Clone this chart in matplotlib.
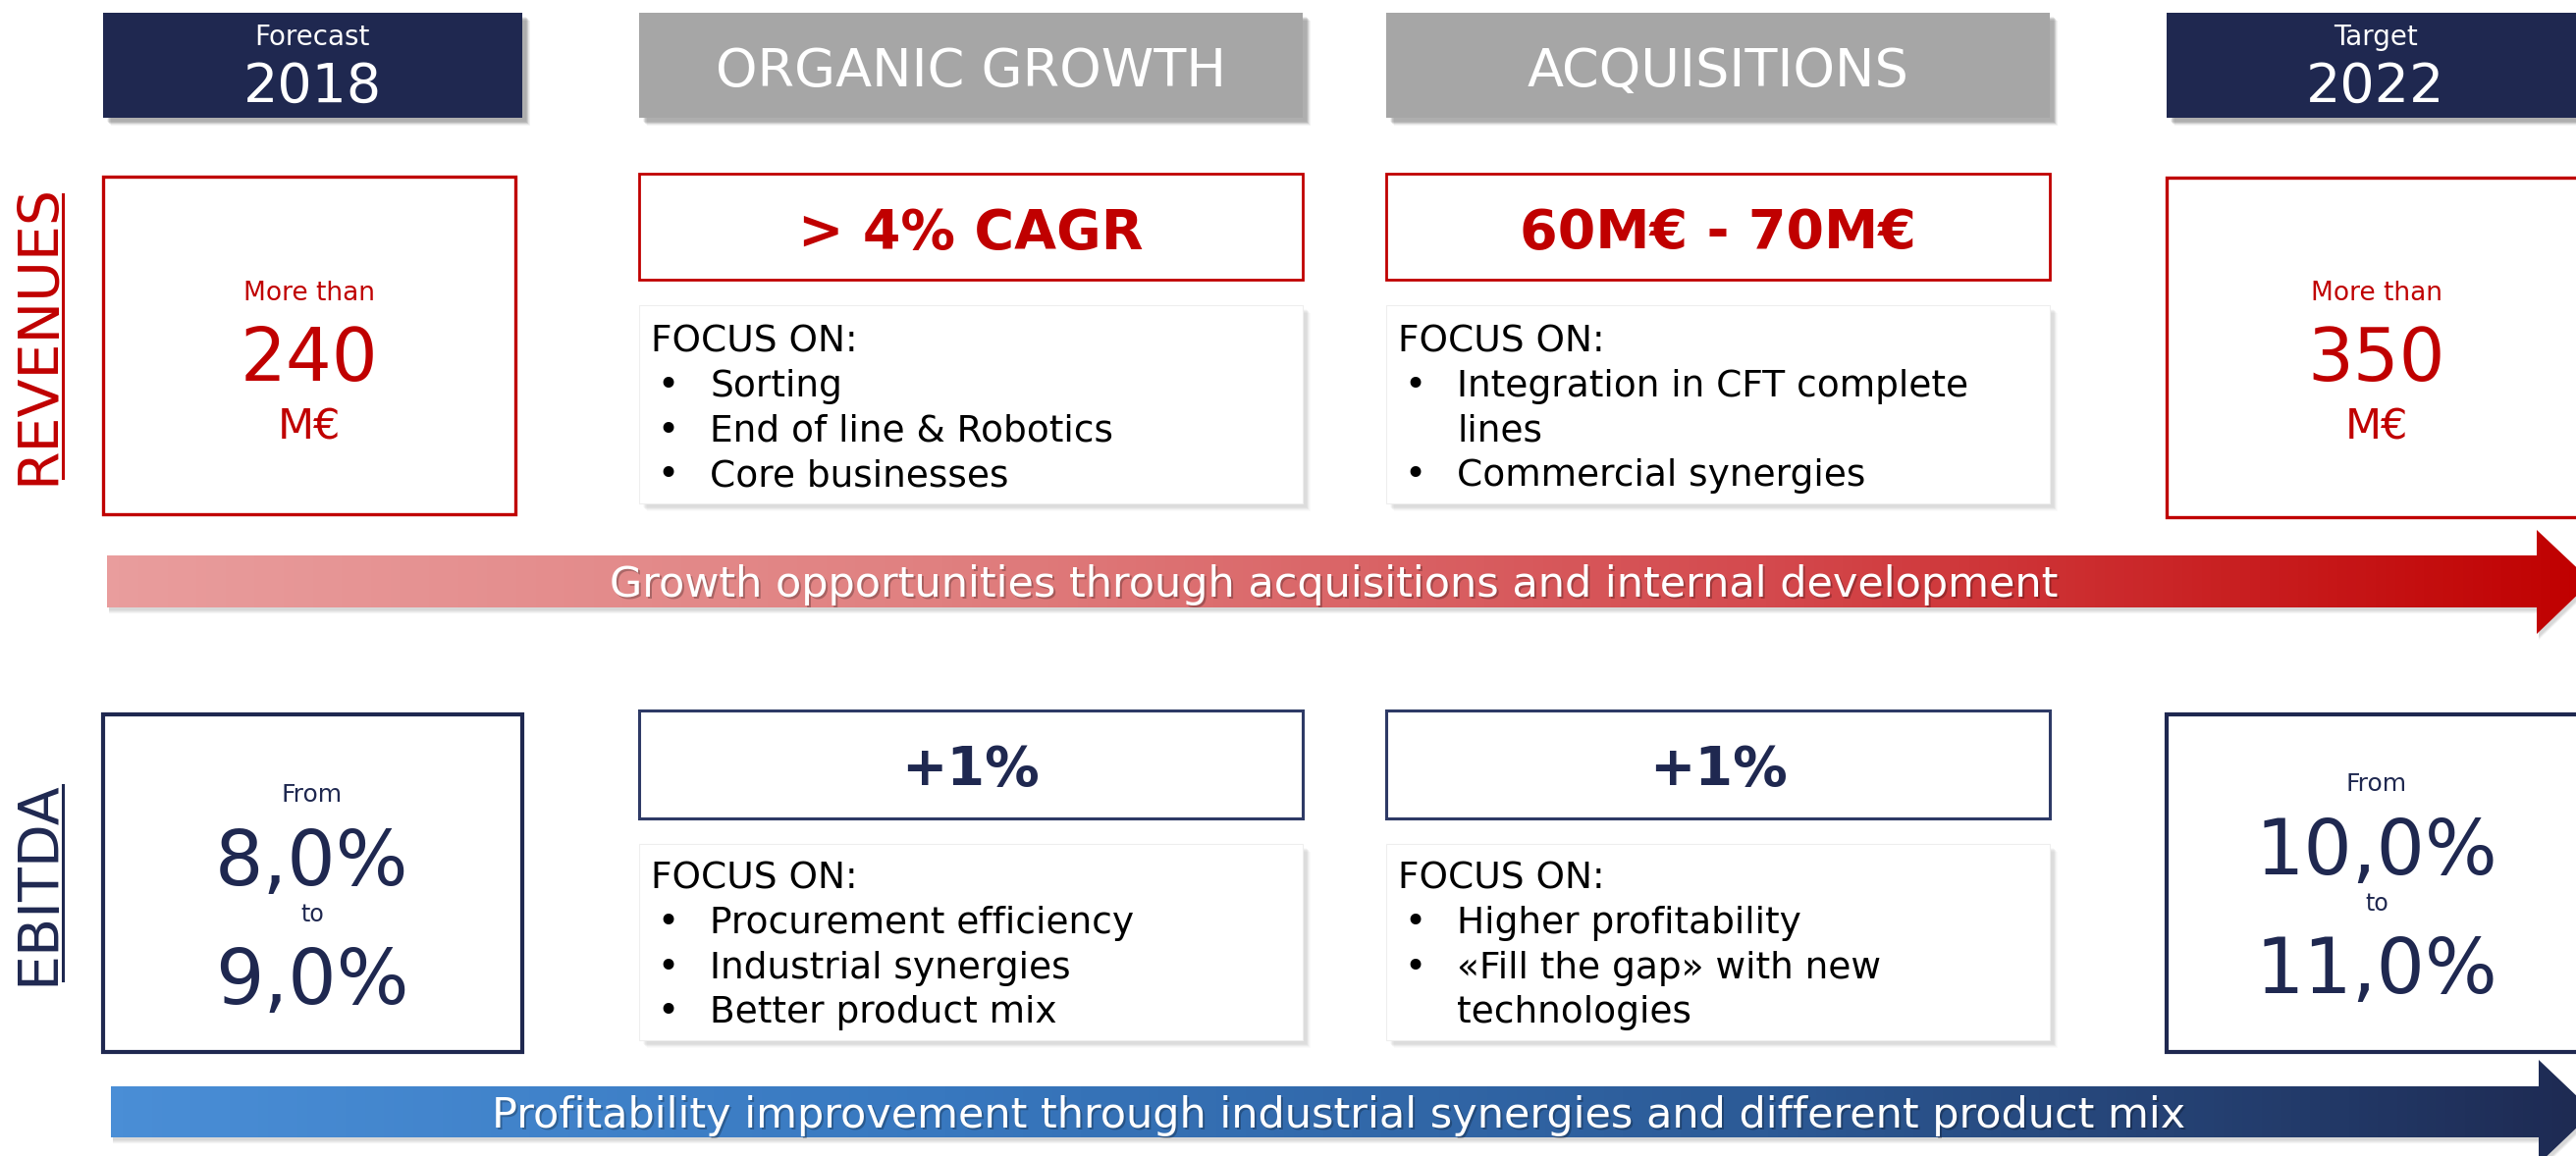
import numpy as np
import matplotlib
matplotlib.use("Agg")
import matplotlib.pyplot as plt
from matplotlib.patches import Rectangle, Polygon
from matplotlib.colors import LinearSegmentedColormap

NAVY = "#1f2850"
RED = "#c00000"
GREY = "#a6a6a6"

# ---- content ----
HEADERS = ["ORGANIC GROWTH", "ACQUISITIONS"]
YEAR_CAPTIONS = ["Forecast", "Target"]
YEARS = ["2018", "2022"]

REV_PREFIX = "More than"
REV_VALUES = ["240", "350"]
REV_UNIT = "M€"
REV_KPIS = ["> 4% CAGR", "60M€ - 70M€"]
REV_FOCUS = [["Sorting", "End of line & Robotics", "Core businesses"],
             ["Integration in CFT complete", "lines", "Commercial synergies"]]
REV_BULLETS = [[True, True, True], [True, False, True]]

EB_FROM = [["8,0%", "9,0%"], ["10,0%", "11,0%"]]
EB_KPIS = ["+1%", "+1%"]
EB_FOCUS = [["Procurement efficiency", "Industrial synergies", "Better product mix"],
            ["Higher profitability", "«Fill the gap» with new", "technologies"]]
EB_BULLETS = [[True, True, True], [True, True, False]]

ROW_LABELS = ["REVENUES", "EBITDA"]
ARROW_TEXTS = ["Growth opportunities through acquisitions and internal development",
               "Profitability improvement through industrial synergies and different product mix"]

W, H = 2624, 1178
fig = plt.figure(figsize=(W / 100, H / 100), dpi=100)
ax = fig.add_axes([0, 0, 1, 1])
ax.set_xlim(0, W)
ax.set_ylim(H, 0)
ax.axis("off")
plt.rcParams["font.family"] = ["DejaVu Sans"]


def txt(x, yc, s, size, color, ha="center", weight="normal", **kw):
    # place text so that its cap-height is centred on yc (pixel coords)
    base = yc + 0.365 * size * 100 / 72
    ax.text(x, base, s, fontsize=size, color=color, ha=ha, va="baseline",
            fontweight=weight, **kw)


def shadow(x, y, w, h, n=7, a=0.045, off=4):
    for i in range(n):
        ax.add_patch(Rectangle((x + off + i * 0.6, y + off + i * 0.6), w, h,
                               facecolor="black", alpha=a, lw=0, zorder=1))


def box(x, y, w, h, fc="white", ec="none", lw=0, shadow_on=False, sa=0.045):
    if shadow_on:
        shadow(x, y, w, h, a=sa)
    ax.add_patch(Rectangle((x, y), w, h, facecolor=fc, edgecolor=ec, lw=lw,
                           zorder=2))


# column geometry (pixels)
X0, W0 = 105, 427
XM = [651, 1412]
WM = 676
X3, W3 = 2207, 460

# ---- header row ----
for (x, w), cap, yr in zip([(X0, W0), (X3, W3)], YEAR_CAPTIONS, YEARS):
    box(x, 13, w, 107, fc=NAVY, shadow_on=True, sa=0.05)
    cx = x + 213
    txt(cx, 36, cap, 20, "white", zorder=3)
    txt(cx, 84, yr, 40, "white", zorder=3)
for x, head in zip(XM, HEADERS):
    box(x, 13, WM, 107, fc=GREY, shadow_on=True, sa=0.05)
    txt(x + WM / 2, 68, head, 39, "white", zorder=3)

# ---- row labels ----
for yc, (lab, col, y1, y2) in zip([340, 900], [(ROW_LABELS[0], RED, 198, 487),
                                             (ROW_LABELS[1], NAVY, 800, 999)]):
    ax.text(40, yc, lab, fontsize=41, color=col, rotation=90,
            ha="center", va="center", zorder=3)
    ax.plot([64, 64], [y1, y2], color=col, lw=2.2, zorder=3)


def focus_block(x, y, h, items, bullets, first_y):
    box(x, y, WM, h, fc="white", ec="#eeeeee", lw=0.8, shadow_on=True, sa=0.02)
    txt(x + 12, first_y, "FOCUS ON:", 27, "black", ha="left", zorder=3)
    for i, (it, b) in enumerate(zip(items, bullets)):
        yy = first_y + 45.5 * (i + 1)
        if b:
            txt(x + 18, yy, "•", 27, "black", ha="left", zorder=3)
        txt(x + 72, yy, it, 27, "black", ha="left", zorder=3)


# ---- revenues row ----
box(X0, 180, 420, 344, ec=RED, lw=2.4)
box(X3, 181, W3, 346, ec=RED, lw=2.4)
for cx, val in zip([X0 + 210, 2421], REV_VALUES):
    txt(cx, 296, REV_PREFIX, 19, RED, zorder=3)
    txt(cx, 361, val, 53, RED, zorder=3)
    txt(cx, 432, REV_UNIT, 31, RED, zorder=3)
for x, kpi, items, bl in zip(XM, REV_KPIS, REV_FOCUS, REV_BULLETS):
    box(x, 177, WM, 108, ec=RED, lw=2.0)
    txt(x + WM / 2, 233, kpi, 40, RED, weight="bold", zorder=3)
    focus_block(x, 311, 202, items, bl, 345)

# ---- ebitda row ----
box(X0, 728, W0, 344, ec=NAVY, lw=3.0)
box(X3, 728, W3, 344, ec=NAVY, lw=3.0)
for (cx, yf), (a, b) in zip([(X0 + 213, 808), (2421, 797)], EB_FROM):
    txt(cx, yf, "From", 18, NAVY, zorder=3)
    txt(cx, yf + 66, a, 56, NAVY, zorder=3)
    txt(cx, yf + 122, "to", 17, NAVY, zorder=3)
    txt(cx, yf + 187, b, 56, NAVY, zorder=3)
for x, kpi, items, bl in zip(XM, EB_KPIS, EB_FOCUS, EB_BULLETS):
    box(x, 724, WM, 110, ec="#2e3a66", lw=2.2)
    txt(x + WM / 2, 780, kpi, 40, NAVY, weight="bold", zorder=3)
    focus_block(x, 860, 200, items, bl, 892)


# ---- gradient arrows ----
def arrow(x0, xh, yt, yb, ht, hb, colors, label, tcx, fs=31):
    mid = (yt + yb) / 2
    tip = xh + (hb - ht) / 2 * 1.05
    pts = [(x0, yt), (xh, yt), (xh, ht), (tip, mid), (xh, hb), (xh, yb), (x0, yb)]
    # soft shadow
    for i in range(5):
        ax.add_patch(Polygon([(px + 2, py + 3 + i * 0.8) for px, py in pts],
                             closed=True, facecolor="black", alpha=0.03,
                             lw=0, zorder=1))
    poly = Polygon(pts, closed=True, facecolor="none", lw=0, zorder=2)
    ax.add_patch(poly)
    cmap = LinearSegmentedColormap.from_list("g", colors)
    grad = np.linspace(0, 1, 512).reshape(1, -1)
    im = ax.imshow(grad, cmap=cmap, extent=[x0, tip, hb, ht], aspect="auto",
                   zorder=2, interpolation="bilinear")
    im.set_clip_path(poly)
    ax.text(tcx + 2, mid + 2 + 0.365 * fs * 100 / 72, label, fontsize=fs,
            color="black", alpha=0.25, ha="center", va="baseline", zorder=3)
    txt(tcx, mid, label, fs, "white", zorder=4)


arrow(109, 2584, 566, 619, 540, 646,
      ["#e99d9d", "#e08080", "#d44a4e", "#c00000"], ARROW_TEXTS[0], 1359)
arrow(113, 2586, 1107, 1159, 1080, 1186,
      ["#4a8ed6", "#3878bf", "#2c5a96", "#1e2a52"], ARROW_TEXTS[1], 1364)

ax.set_xlim(0, W)
ax.set_ylim(H, 0)
fig.savefig("out.png", dpi=100)
